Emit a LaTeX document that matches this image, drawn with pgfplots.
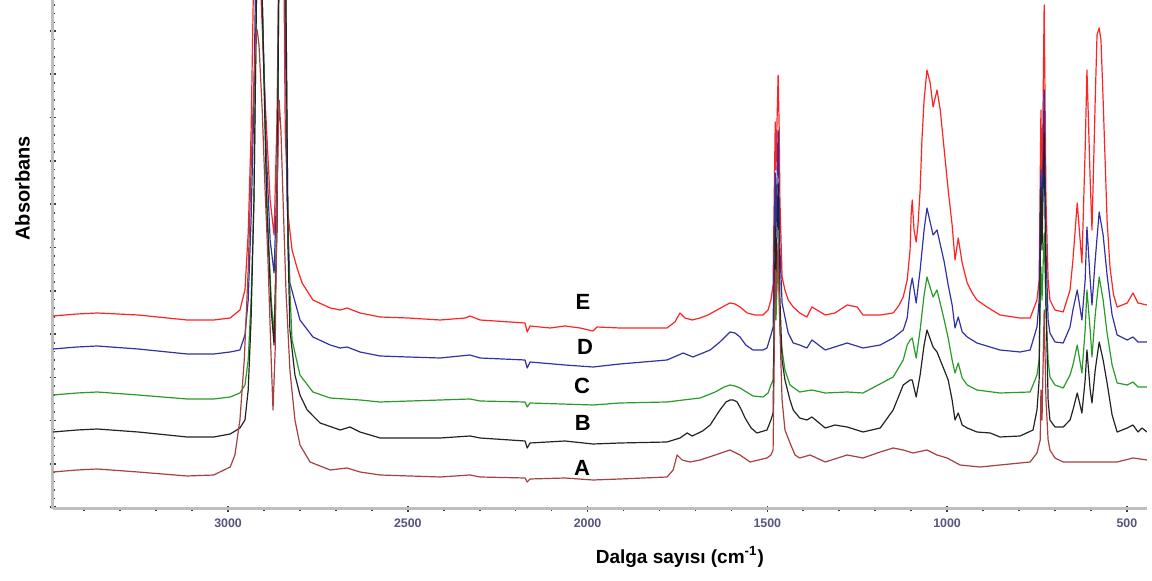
\documentclass[border=0pt]{standalone}
\usepackage{pgfplots}
\pgfplotsset{compat=1.18}
\usepackage{fontspec}
\setmainfont{Liberation Sans}
\definecolor{cE}{RGB}{255,35,35}
\definecolor{cD}{RGB}{50,50,165}
\definecolor{cC}{RGB}{40,155,40}
\definecolor{cB}{RGB}{35,35,35}
\definecolor{cA}{RGB}{165,65,65}
\definecolor{axgrey}{RGB}{190,190,190}
\definecolor{tickgrey}{RGB}{60,60,60}
\definecolor{labcol}{RGB}{85,85,125}
\begin{document}
\begin{tikzpicture}
\path[use as bounding box] (0,0) rectangle (576pt,290.5pt);
\begin{axis}[
  at={(26.5pt,36pt)}, anchor=south west,
  scale only axis, width=547pt, height=254.5pt,
  x dir=reverse, y dir=reverse,
  xmin=444, xmax=3487, ymin=0, ymax=509,
  axis x line=bottom, axis y line=left,
  axis line style={-, draw=axgrey, line width=1.5pt},
  x axis line style={-, draw=axgrey, line width=1.5pt},
  y axis line style={-, draw=axgrey, line width=1.5pt},
  xtick={500,1000,...,3000},
  minor xtick={600,700,...,3400},
  ytick={31,74.3,...,508},
  minor ytick={5.02,13.68,...,508},
  yticklabels={},
  tick align=center,
  major tick length=3.2pt, minor tick length=1.8pt,
  major tick style={draw=tickgrey, line width=0.8pt},
  minor tick style={draw=tickgrey, line width=0.8pt},
  axis on top=false,
  /pgf/number format/assume math mode=true,
  xticklabel style={/pgf/number format/set thousands separator={}, font=\fontsize{6.2}{7}\selectfont\bfseries, text=labcol},
  every axis y label/.style={at={(axis description cs:-0.028,0.63)}, rotate=90, anchor=center},
  every axis x label/.style={at={(axis description cs:0.573,-0.094)}, anchor=center},
  xlabel={\fontsize{9.5}{11}\selectfont\bfseries Dalga sayısı (cm\textsuperscript{-1})},
  ylabel={\fontsize{10}{12}\selectfont\bfseries Absorbans},
  clip=true,
  every axis plot/.append style={mark=none, line width=0.6pt, line join=round},
]
% E
\addplot[cE] table {
3487 316
3420 314
3364 313
3250 315
3114 320
3040 320
2994 318
2967 310
2953 290
2944 233
2936 133
2930 0
2925 -60
2911 -60
2908 0
2897 100
2883 200
2872 235
2864 120
2858 -60
2847 -60
2844 0
2841 130
2833 215
2822 250
2808 268
2794 283
2764 300
2716 308
2688 310
2669 308
2633 313
2577 317
2500 318
2410 320
2340 318
2327 316
2299 320
2174 323
2168 332
2160 326
2104 328
2063 326
2021 328
1985 331
1974 327
1910 328
1779 328
1757 322
1743 313
1729 318
1709 320
1687 318
1665 315
1645 311
1620 306
1604 303
1590 304
1576 307
1556 313
1534 315
1512 315
1498 310
1490 300
1484 285
1481 200
1478 122
1476 170
1473 120
1470 75
1467 130
1465 200
1459 277
1451 290
1442 300
1428 307
1410 313
1390 317
1376 307
1339 315
1312 313
1278 305
1250 307
1234 315
1186 315
1150 313
1135 306
1122 297
1111 280
1103 250
1100 215
1097 200
1092 230
1086 242
1081 225
1075 190
1070 140
1064 100
1056 70
1047 83
1039 107
1028 90
1019 110
1008 150
997 190
986 225
978 260
969 238
958 263
944 283
930 293
917 300
889 307
853 315
797 318
769 318
750 300
744 280
739 110
736 200
730 5
725 200
719 280
714 300
700 310
677 312
658 290
650 260
638 203
625 263
616 150
611 70
602 180
597 230
588 100
583 35
577 28
572 40
566 100
555 220
547 267
537 295
527 307
499 303
483 293
469 303
444 305
};
% D
\addplot[cD] table {
3487 349
3420 347
3364 346
3250 349
3114 354
3040 354
2994 352
2967 350
2953 335
2944 300
2936 220
2928 100
2922 -60
2911 -60
2905 0
2894 150
2883 240
2872 273
2864 180
2858 -60
2847 -60
2841 0
2836 200
2828 283
2800 320
2764 337
2716 345
2688 348
2669 347
2633 352
2577 356
2500 357
2410 358
2327 355
2299 358
2174 360
2168 368
2160 362
2063 365
1985 367
1910 364
1779 360
1734 353
1707 357
1659 350
1632 342
1615 336
1604 332
1590 333
1576 337
1560 345
1540 350
1512 350
1501 348
1490 335
1484 327
1478 173
1476 230
1470 130
1465 250
1459 303
1442 333
1428 343
1410 345
1390 348
1376 340
1339 350
1278 343
1234 348
1186 345
1150 338
1122 330
1111 318
1103 290
1097 278
1086 303
1075 270
1064 230
1056 208
1039 235
1028 230
1008 262
997 285
986 305
978 328
969 317
958 332
944 337
917 343
853 350
797 352
769 350
750 327
744 300
739 170
736 230
730 90
725 250
719 320
714 333
700 342
677 343
658 327
650 310
638 290
625 320
616 280
611 227
602 280
597 305
588 260
577 212
566 235
555 275
541 315
527 335
499 340
483 337
469 342
444 342
};
% C
\addplot[cC] table {
3487 395
3420 393
3364 392
3250 395
3114 399
3040 399
2994 397
2967 393
2953 385
2944 360
2936 300
2928 200
2919 -60
2911 -60
2905 0
2892 200
2880 300
2872 335
2864 220
2858 -60
2844 -60
2839 0
2833 250
2822 340
2800 375
2764 392
2716 398
2633 400
2577 402
2410 400
2327 399
2299 401
2174 402
2168 407
2160 403
1985 405
1910 403
1779 402
1734 400
1687 398
1645 392
1620 387
1604 385
1590 386
1576 388
1540 396
1512 397
1498 393
1490 385
1484 380
1478 280
1476 320
1470 253
1465 330
1459 350
1451 370
1437 385
1410 392
1376 390
1339 393
1278 392
1234 393
1150 377
1122 360
1111 345
1103 340
1097 338
1086 358
1075 330
1064 295
1056 277
1039 297
1028 290
1008 320
997 338
986 360
978 373
969 363
958 378
944 385
917 390
853 393
769 392
750 375
744 360
739 267
736 300
730 233
725 310
719 360
714 377
700 385
677 388
658 375
650 365
638 345
625 373
616 330
611 290
602 330
597 357
588 315
577 277
566 300
555 333
541 365
527 383
499 385
483 382
469 387
444 387
};
% B
\addplot[cB] table {
3487 432
3420 430
3364 429
3250 432
3114 437
3040 437
2994 434
2967 428
2953 420
2944 390
2936 320
2928 200
2919 -60
2911 -60
2905 0
2892 210
2880 310
2872 345
2864 230
2858 -60
2844 -60
2839 0
2833 250
2828 330
2814 375
2800 395
2780 410
2744 423
2688 430
2661 427
2633 432
2577 438
2410 438
2327 436
2299 438
2174 441
2168 448
2160 443
2063 441
1985 444
1910 443
1779 442
1743 438
1723 433
1709 436
1680 431
1659 425
1632 410
1615 402
1604 400
1595 400
1584 402
1572 410
1562 418
1545 428
1529 433
1501 430
1490 420
1484 413
1478 227
1476 280
1470 183
1465 300
1459 360
1451 380
1437 400
1428 410
1410 418
1390 420
1376 417
1339 428
1312 425
1278 427
1234 432
1186 428
1150 410
1122 385
1103 380
1097 380
1086 397
1075 375
1064 345
1056 330
1039 347
1028 352
1008 370
997 380
986 400
978 420
969 413
958 425
944 428
917 432
880 433
853 437
797 436
761 430
750 410
744 380
739 187
736 250
730 133
725 300
719 400
714 420
700 427
677 427
658 420
650 410
638 393
625 413
616 380
611 350
602 390
597 403
588 370
577 342
566 360
555 383
541 415
527 432
499 428
483 425
469 432
458 428
444 432
};
% A
\addplot[cA] table {
3487 472
3420 470
3364 469
3250 472
3114 476
3040 475
2994 467
2981 455
2967 420
2955 360
2944 270
2936 170
2928 80
2922 35
2919 30
2914 45
2905 110
2897 190
2889 260
2880 360
2875 410
2869 350
2864 200
2858 100
2853 130
2847 200
2839 290
2828 370
2814 420
2800 445
2772 462
2716 470
2669 468
2633 472
2577 475
2410 477
2327 475
2299 477
2174 478
2168 482
2160 479
2063 478
1985 480
1910 479
1779 477
1762 470
1751 455
1737 460
1715 462
1687 460
1645 455
1604 450
1576 455
1548 462
1501 458
1490 455
1484 450
1478 270
1476 300
1470 243
1465 330
1459 400
1451 430
1437 443
1423 455
1410 458
1381 455
1339 462
1278 455
1234 458
1186 452
1150 448
1122 450
1095 453
1056 450
1028 455
1000 458
964 465
908 467
853 465
797 463
769 462
750 453
741 440
739 390
736 420
730 310
725 400
719 440
714 450
700 458
677 462
630 462
574 462
527 462
483 458
444 460
};
\node[font=\fontsize{11}{12}\selectfont\bfseries] at (axis cs:2013,302) {E};
\node[font=\fontsize{11}{12}\selectfont\bfseries] at (axis cs:2007,347) {D};
\node[font=\fontsize{11}{12}\selectfont\bfseries] at (axis cs:2015,386) {C};
\node[font=\fontsize{11}{12}\selectfont\bfseries] at (axis cs:2013,423) {B};
\node[font=\fontsize{11}{12}\selectfont\bfseries] at (axis cs:2015,468) {A};
\end{axis}
\end{tikzpicture}
\end{document}
